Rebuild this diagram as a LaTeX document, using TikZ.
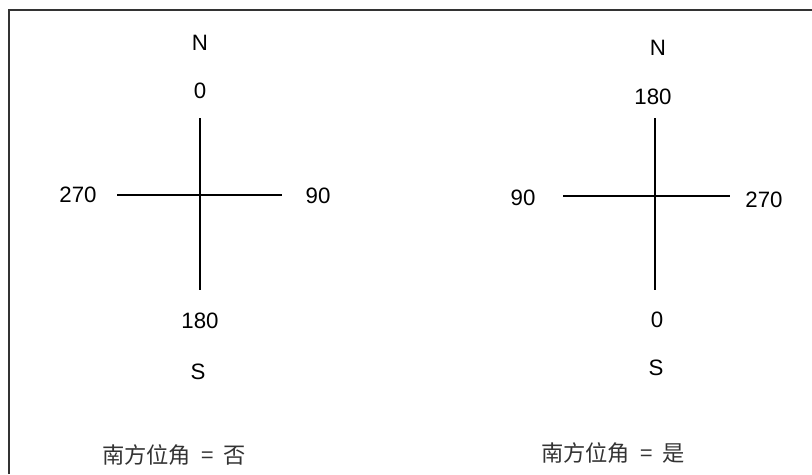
\documentclass[tikz,border=0pt]{standalone}
\usepackage{fontspec}
\setmainfont{Liberation Sans}
\newfontfamily\cjk{Noto Sans CJK SC}
\begin{document}
\begin{tikzpicture}[x=0.03cm, y=-0.03cm, font=\fontsize{19}{22}\selectfont, line cap=butt,
  arm/.style={line width=1.3pt},
  lbl/.style={inner sep=0pt},
  captxt/.style={inner sep=0pt, font=\cjk\fontsize{19}{22}\selectfont, text=black!80}]
\useasboundingbox (0,0) rectangle (812,474);
\draw[line width=1.4pt, black!80] (9,474) |- (812,10);
% south azimuth = no
\coordinate (Lt) at (200,118); \coordinate (Lb) at (200,290);
\coordinate (Ll) at (117,195); \coordinate (Lr) at (282,195);
\draw[arm] (Lt) -- (Lb) (Ll) -- (Lr);
\node[lbl] (LN) at (200,43) {N};
\node[lbl] (Ltop) at (200,91) {0};
\node[lbl] (Lleft) at (78,195) {270};
\node[lbl] (Lright) at (318,196) {90};
\node[lbl] (Lbot) at (200,321) {180};
\node[lbl] (LS) at (198,372) {S};
\node[captxt] (Lcap) at (174,455) {南方位角\ \ =\ \ 否};
% south azimuth = yes
\coordinate (Rt) at (655,118); \coordinate (Rb) at (655,290);
\coordinate (Rl) at (563,196); \coordinate (Rr) at (730,196);
\draw[arm] (Rt) -- (Rb) (Rl) -- (Rr);
\node[lbl] (RN) at (658,48) {N};
\node[lbl] (Rtop) at (653,97) {180};
\node[lbl] (Rleft) at (523,198) {90};
\node[lbl] (Rright) at (764,200) {270};
\node[lbl] (Rbot) at (657,320) {0};
\node[lbl] (RS) at (656,368) {S};
\node[captxt] (Rcap) at (613,453) {南方位角\ \ =\ \ 是};
\end{tikzpicture}
\end{document}
